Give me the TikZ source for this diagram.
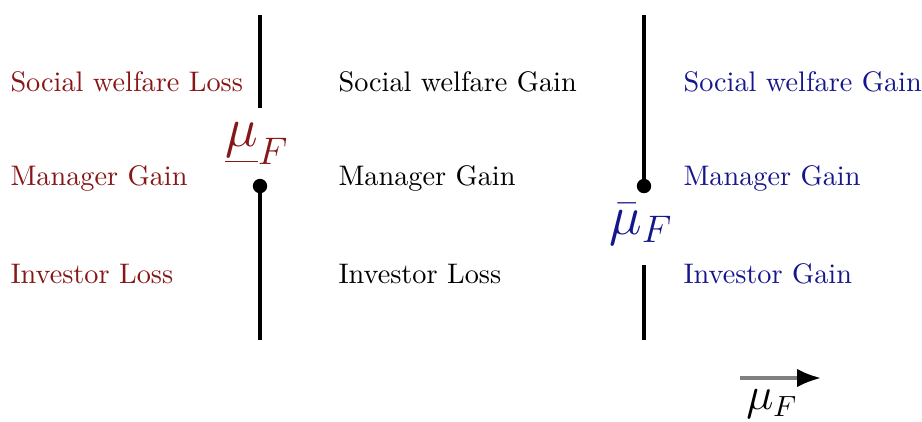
\documentclass[tikz,border=0pt]{standalone}
\usetikzlibrary{arrows.meta}
\definecolor{lossred}{RGB}{135,22,22}
\definecolor{gainblue}{RGB}{22,22,140}
\begin{document}
\begin{tikzpicture}[x=0.375pt,y=-0.375pt,
  lbl/.style={anchor=west,inner sep=0pt,font=\fontsize{10.6}{13}\selectfont},
  bar/.style={line width=1.3pt},
  mulbl/.style={font=\fontsize{21}{25}\selectfont},
  dotc/.style={circle,fill=black,inner sep=0pt,minimum size=5.4pt}]
\useasboundingbox (0,0) rectangle (922,421);
% left column
\node[lbl,text=lossred] (l1) at (10,82) {Social welfare Loss};
\node[lbl,text=lossred] (l2) at (10,178) {Manager Gain};
\node[lbl,text=lossred] (l3) at (10,274) {Investor Loss};
% middle column
\node[lbl] (m1) at (338,82) {Social welfare Gain};
\node[lbl] (m2) at (338,178) {Manager Gain};
\node[lbl] (m3) at (338,274) {Investor Loss};
% right column
\node[lbl,text=gainblue] (r1) at (683,82) {Social welfare Gain};
\node[lbl,text=gainblue] (r2) at (683,178) {Manager Gain};
\node[lbl,text=gainblue] (r3) at (683,274) {Investor Gain};
% left threshold
\coordinate (lt) at (260,15);
\coordinate (lm) at (260,108);
\node[dotc] (ld) at (260,186) {};
\coordinate (lb) at (260,340);
\draw[bar] (lt) -- (lm);
\draw[bar] (ld.center) -- (lb);
\node[text=lossred,mulbl] (lmu) at (257,144) {$\underline{\mu}_F$};
% right threshold
\coordinate (rt) at (644,15);
\node[dotc] (rd) at (644,186) {};
\coordinate (rm) at (644,265);
\coordinate (rb) at (644,340);
\draw[bar] (rt) -- (rd.center);
\draw[bar] (rm) -- (rb);
\node[text=gainblue,mulbl] (rmu) at (641,224) {$\bar{\mu}_F$};
% axis arrow
\coordinate (a0) at (740,378);
\coordinate (a1) at (821,378);
\draw[line width=1.3pt,draw=gray,-{Latex[length=9pt,width=7pt,fill=black,color=black]}] (a0) -- (a1);
\node[font=\fontsize{16}{19}\selectfont] (amu) at (772,404) {$\mu_F$};
\end{tikzpicture}
\end{document}
